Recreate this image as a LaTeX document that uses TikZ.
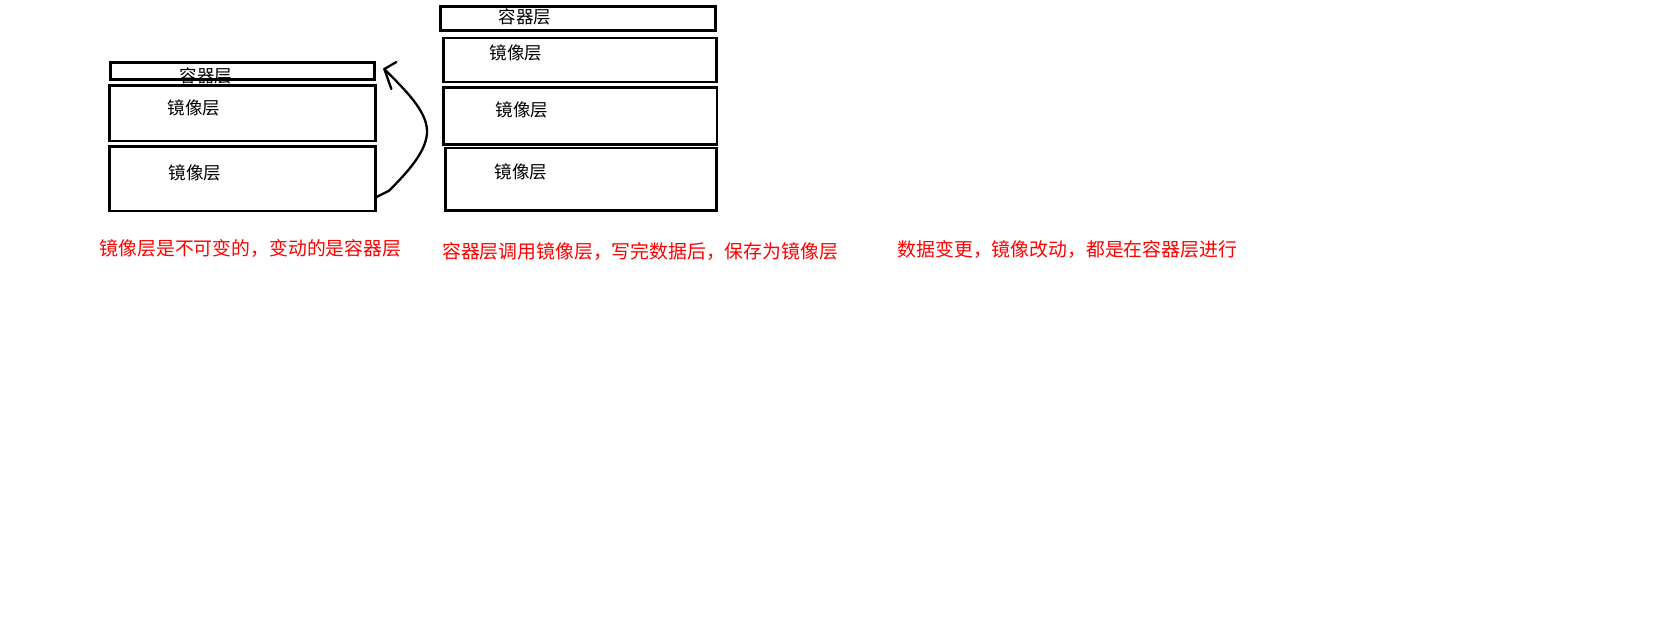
\documentclass[tikz,border=0pt]{standalone}
\usepackage{fontspec}
\newfontfamily\cjk{Noto Sans CJK SC}
\usetikzlibrary{calc}
\begin{document}
\begin{tikzpicture}[x=1pt,y=-1pt,
  box/.style={draw=black,line width=2.8pt,rectangle,inner sep=0pt,outer sep=0pt},
  lbl/.style={font=\cjk\fontsize{17.5}{18}\selectfont,inner sep=0pt,anchor=center},
  note/.style={font=\cjk\fontsize{18.85}{20}\selectfont,text=red,inner sep=0pt,anchor=west},
  curvearrow/.style={line width=2.3pt,line cap=round,line join=round}]
\useasboundingbox[fill=white] (0,0) rectangle (1679,626);
% texts inside boxes
\node[lbl] (lct) at (206,75.5) {容器层};
\node[lbl] (lm1t) at (194,107.5) {镜像层};
\node[lbl] (lm2t) at (195,173) {镜像层};
\node[lbl] (rct) at (525,16.5) {容器层};
\node[lbl] (rm1t) at (516,53) {镜像层};
\node[lbl] (rm2t) at (522,110) {镜像层};
\node[lbl] (rm3t) at (521,172) {镜像层};
% left stack
\node[box,minimum width=263.7pt,minimum height=17.3pt] (lc) at (242.5,71) {};
\node[box,minimum width=265.7pt,minimum height=55.3pt] (lm1) at (242.5,113.3) {};
\node[box,minimum width=265.7pt,minimum height=64.3pt] (lm2) at (242.5,178.8) {};
% right stack
\node[box,minimum width=274.7pt,minimum height=24pt] (rc) at (578,18.3) {};
\node[box,minimum width=273pt,minimum height=44pt] (rm1) at (579.8,60) {};
\node[box,minimum width=273.6pt,minimum height=57.3pt] (rm2) at (580.2,116) {};
\node[box,minimum width=271pt,minimum height=62.3pt] (rm3) at (580.8,179.2) {};
% curved arrow
\coordinate (as) at ($(lm2.east)+(1.6,18)$);
\coordinate (ae) at ($(lc.east)+(10,-2)$);
\draw[curvearrow] (as) -- ++(12,-6) .. controls ++(19,-19) and (428,150) .. (427,130)
  .. controls (426,110) and (405,90) .. (ae);
\draw[curvearrow] (ae) -- ++(12,-7);
\draw[curvearrow] (ae) -- ++(7,20);
% notes
\node[note] (t1) at (99.5,249) {镜像层是不可变的，变动的是容器层};
\node[note] (t2) at (442,252) {容器层调用镜像层，写完数据后，保存为镜像层};
\node[note] (t3) at (897.5,250) {数据变更，镜像改动，都是在容器层进行};
\end{tikzpicture}
\end{document}
